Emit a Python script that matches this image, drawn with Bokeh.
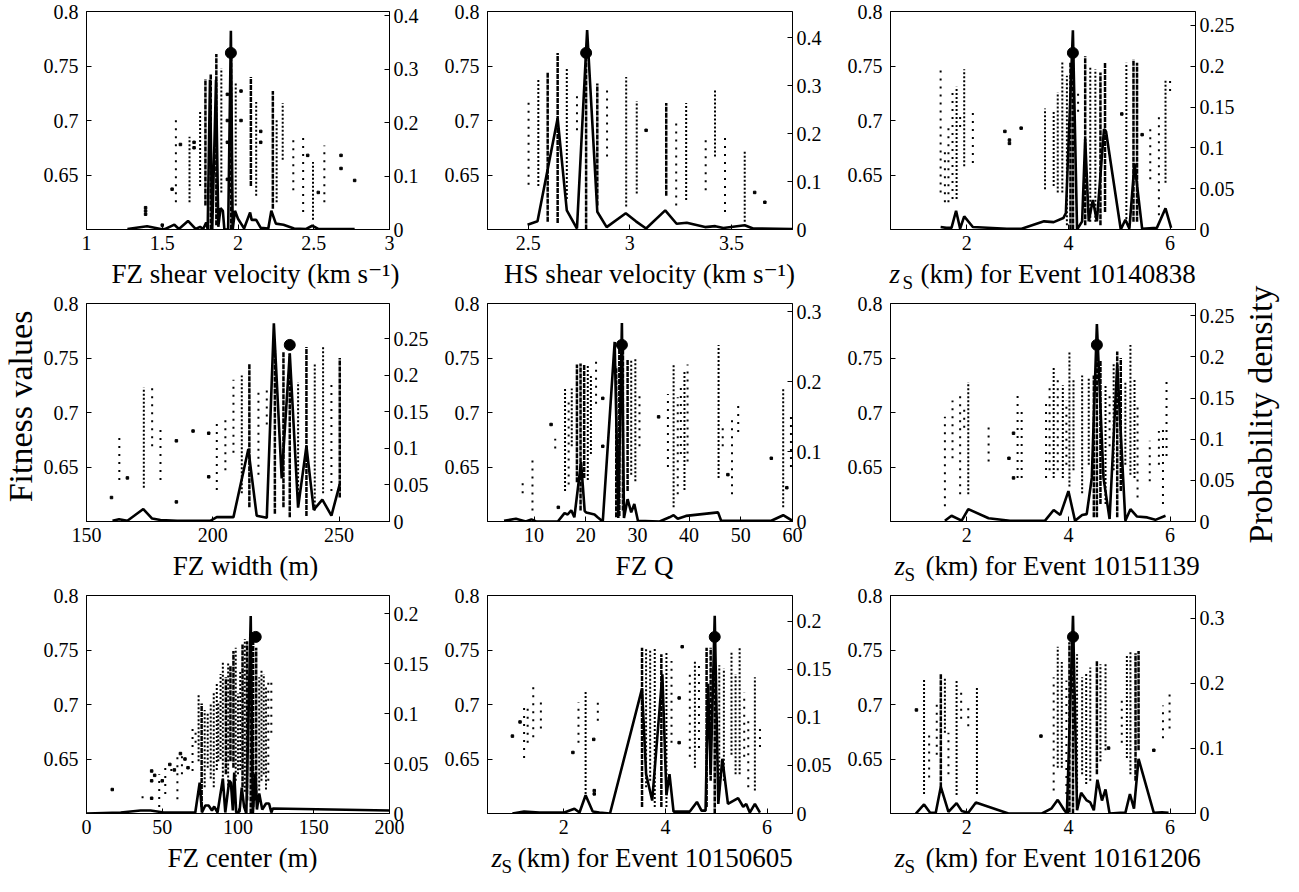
import math
from bokeh.plotting import figure
from bokeh.models import Range1d, LinearAxis, FixedTicker, CustomJSTickFormatter, Label
from bokeh.layouts import row, column
from bokeh.embed import file_html
from bokeh.resources import INLINE

FONT = "Liberation Serif, DejaVu Serif, serif"

# ---------------- data ----------------
fit_ticks = [0.65, 0.7, 0.75, 0.8]
fit_range = (0.6, 0.8)

x_ranges = [(1, 3), (2.3, 3.8), (0.5, 6.5), (150, 270), (1, 60), (0.5, 6.5), (0, 200), (0.5, 6.5), (0.5, 6.5)]
x_ticks = [[1, 1.5, 2, 2.5, 3], [2.5, 3, 3.5], [2, 4, 6], [150, 200, 250], [10, 20, 30, 40, 50, 60],
           [2, 4, 6], [0, 50, 100, 150, 200], [2, 4, 6], [2, 4, 6]]
dens_max = [0.408, 0.455, 0.267, 0.298, 0.312, 0.265, 0.2185, 0.227, 0.335]
dens_ticks = [[0, 0.1, 0.2, 0.3, 0.4], [0, 0.1, 0.2, 0.3, 0.4], [0, 0.05, 0.1, 0.15, 0.2, 0.25],
              [0, 0.05, 0.1, 0.15, 0.2, 0.25], [0, 0.1, 0.2, 0.3], [0, 0.05, 0.1, 0.15, 0.2, 0.25],
              [0, 0.05, 0.1, 0.15, 0.2], [0, 0.05, 0.1, 0.15, 0.2], [0, 0.1, 0.2, 0.3]]
titles = ["FZ shear velocity (km s\u207b\u00b9)", "HS shear velocity (km s\u207b\u00b9)", None,
          "FZ width (m)", "FZ Q", None, "FZ center (m)", None, None]
events = [None, None, "10140838", None, None, "10151139", None, "10150605", "10161206"]
y_left_title = "Fitness values"
y_right_title = "Probability density"
best_x = [1.953, 2.785, 4.088, 230.5, 27.0, 4.56, 111.7, 4.97, 4.09]
best_y = [0.762, 0.762, 0.762, 0.762, 0.762, 0.762, 0.762, 0.762, 0.762]

# panel 1
p1_dens_x = [1.27, 1.40, 1.49, 1.52, 1.58, 1.61, 1.67, 1.72, 1.75, 1.77, 1.79, 1.80, 1.815, 1.83, 1.855, 1.87, 1.885,
             1.90, 1.91, 1.935, 1.953, 1.965, 1.98, 2.00, 2.04, 2.08, 2.09, 2.12, 2.15, 2.20, 2.22, 2.25, 2.30, 2.37,
             2.45, 2.49, 2.53, 2.77]
p1_dens_y = [0.001, 0.006, 0.001, 0.001, 0.009, 0.001, 0.016, 0.001, 0.005, 0.001, 0.013, 0.0, 0.28, 0.0, 0.28, 0.005,
             0.04, 0.035, 0.0, 0.0, 0.372, 0.0, 0.035, 0.02, 0.002, 0.032, 0.018, 0.018, 0.003, 0.002, 0.035, 0.011,
             0.009, 0.002, 0.001, 0.007, 0.001, 0.001]
p1_dense = [(1.785, 0.622, 0.738), (1.82, 0.600, 0.743), (1.857, 0.604, 0.761), (1.955, 0.600, 0.760),
            (2.085, 0.640, 0.740), (2.23, 0.619, 0.727)]
p1_mid = [(1.68, 0.625, 0.685), (1.75, 0.640, 0.708), (1.89, 0.634, 0.748), (1.985, 0.622, 0.734),
          (2.12, 0.631, 0.717), (2.255, 0.625, 0.701), (2.295, 0.664, 0.716), (2.495, 0.609, 0.662)]
p1_sparse = [(1.59, 0.625, 0.705), (2.365, 0.636, 0.683), (2.43, 0.616, 0.686), (2.57, 0.625, 0.677)]
p1_pts_x = [1.39, 1.39, 1.39, 1.50, 1.565, 1.62, 1.71, 1.71, 1.93, 1.93, 1.93, 1.93, 2.02, 2.02, 2.15, 2.15, 2.46,
            2.53, 2.68, 2.68, 2.77]
p1_pts_y = [0.620, 0.617, 0.614, 0.604, 0.637, 0.678, 0.680, 0.675, 0.724, 0.700, 0.680, 0.646, 0.727, 0.700, 0.690,
            0.680, 0.668, 0.634, 0.668, 0.656, 0.645]

# panel 2
p2_dens_x = [2.497, 2.546, 2.645, 2.69, 2.74, 2.79, 2.84, 2.886, 2.98, 3.03, 3.08, 3.174, 3.23, 3.28, 3.37, 3.42,
             3.46, 3.565, 3.606, 3.80]
p2_dens_y = [0.010, 0.017, 0.232, 0.040, 0.002, 0.416, 0.037, 0.005, 0.034, 0.017, 0.002, 0.040, 0.012, 0.014,
             0.005, 0.007, 0.003, 0.009, 0.002, 0.001]
p2_dense = [(2.596, 0.607, 0.744), (2.645, 0.606, 0.762), (2.785, 0.600, 0.762), (2.84, 0.622, 0.734),
            (3.179, 0.631, 0.716)]
p2_mid = [(2.55, 0.640, 0.739), (2.69, 0.628, 0.749), (2.982, 0.621, 0.740), (3.034, 0.633, 0.718),
          (3.277, 0.627, 0.716), (3.419, 0.667, 0.728), (3.565, 0.607, 0.672)]
p2_sparse = [(2.502, 0.641, 0.717), (2.74, 0.691, 0.723), (2.888, 0.667, 0.728), (3.228, 0.622, 0.701),
             (3.373, 0.636, 0.683), (3.468, 0.616, 0.686)]
p2_pts_x = [3.08, 3.614, 3.664]
p2_pts_y = [0.691, 0.634, 0.625]

# panel 3
p3_dens_x = [1.486, 1.60, 1.70, 1.79, 1.87, 1.95, 2.12, 2.79, 3.08, 3.52, 3.71, 3.90, 3.95, 4.088, 4.17, 4.27,
             4.33, 4.40, 4.48, 4.56, 4.70, 4.74, 5.03, 5.12, 5.20, 5.30, 5.45, 5.74, 5.91, 6.02]
p3_dens_y = [0.003, 0.002, 0.002, 0.023, 0.001, 0.016, 0.003, 0.001, 0.001, 0.010, 0.009, 0.014, 0.02, 0.244, 0.0,
             0.01, 0.111, 0.01, 0.036, 0.01, 0.123, 0.12, 0.0, 0.012, 0.001, 0.081, 0.001, 0.002, 0.026, 0.002]
p3_dense = [(4.04, 0.600, 0.753), (4.09, 0.600, 0.762), (4.33, 0.604, 0.759), (4.63, 0.604, 0.744),
            (4.72, 0.616, 0.753), (5.28, 0.607, 0.756), (5.35, 0.607, 0.753)]
p3_mid = [(1.80, 0.628, 0.731), (1.95, 0.658, 0.747), (3.54, 0.637, 0.711), (3.71, 0.640, 0.708),
          (3.79, 0.634, 0.726), (3.88, 0.634, 0.754), (3.97, 0.604, 0.741), (4.43, 0.607, 0.750),
          (4.53, 0.607, 0.747), (5.14, 0.606, 0.753), (5.91, 0.643, 0.738)]
p3_sparse = [(1.486, 0.634, 0.748), (1.57, 0.625, 0.671), (1.64, 0.625, 0.694), (1.72, 0.628, 0.726),
             (1.87, 0.694, 0.708), (2.12, 0.661, 0.711), (4.19, 0.708, 0.726), (5.61, 0.646, 0.697),
             (5.78, 0.613, 0.708), (6.0, 0.727, 0.740)]
p3_pts_x = [2.75, 2.84, 2.84, 3.07, 5.05, 5.45]
p3_pts_y = [0.690, 0.682, 0.679, 0.693, 0.706, 0.687]

# panel 4
p4_dens_x = [160.3, 162.9, 166.2, 172.5, 176, 179.3, 185.9, 199, 201.6, 208.2, 214.1, 217.4, 221.4, 224.2, 227.3,
             230.5, 233.8, 237.1, 240, 243.4, 247, 250.3]
p4_dens_y = [0.001, 0.003, 0.001, 0.017, 0.004, 0.002, 0.001, 0.001, 0.006, 0.006, 0.099, 0.008, 0.005, 0.271,
             0.059, 0.23, 0.019, 0.103, 0.016, 0.03, 0.008, 0.051]
p4_dense = [(214.5, 0.613, 0.745), (224.6, 0.607, 0.757), (228, 0.613, 0.756), (230.5, 0.604, 0.754),
            (237.1, 0.605, 0.760), (250.3, 0.622, 0.750)]
p4_mid = [(172.7, 0.631, 0.723), (211.5, 0.626, 0.734), (233.8, 0.625, 0.728), (240.4, 0.610, 0.745),
          (243.7, 0.626, 0.760)]
p4_sparse = [(163, 0.638, 0.680), (176, 0.669, 0.726), (179.3, 0.638, 0.689), (201.6, 0.629, 0.690),
             (205, 0.647, 0.696), (208.2, 0.663, 0.730), (218.1, 0.643, 0.723), (221.4, 0.689, 0.725),
             (247, 0.628, 0.726)]
p4_pts_x = [159.9, 166.2, 185.6, 185.6, 192.2, 198.4, 198.4]
p4_pts_y = [0.622, 0.640, 0.674, 0.618, 0.683, 0.681, 0.641]

# panel 5
p5_dens_x = [4.2, 6.5, 8.4, 9.5, 10.4, 14.6, 15.9, 16.5, 17.2, 17.8, 19.1, 19.8, 20.1, 21.7, 22.3, 23.3, 25.6, 26.3,
             27.0, 27.4, 28.1, 28.8, 29.4, 30.1, 34.3, 36.2, 37.0, 37.8, 39.4, 45.6, 46.2, 48.5, 55.9, 58.2, 60.0]
p5_dens_y = [0.001, 0.004, 0.0, 0.003, 0.0, 0.0, 0.012, 0.010, 0.016, 0.006, 0.085, 0.015, 0.013, 0.010, 0.006, 0.0,
             0.257, 0.005, 0.284, 0.005, 0.032, 0.013, 0.025, 0.001, 0.0, 0.006, 0.009, 0.004, 0.008, 0.013, 0.001,
             0.001, 0.001, 0.009, 0.001]
p5_dense = [(18.3, 0.636, 0.744), (19.0, 0.610, 0.745), (19.7, 0.640, 0.744), (25.9, 0.604, 0.742),
            (26.5, 0.605, 0.764), (27.2, 0.610, 0.764), (28.1, 0.628, 0.749)]
p5_mid = [(16.0, 0.628, 0.722), (17.3, 0.669, 0.722), (20.4, 0.638, 0.743), (21.0, 0.662, 0.734),
          (28.8, 0.643, 0.749), (29.6, 0.637, 0.749), (37.0, 0.613, 0.744), (39.1, 0.629, 0.738),
          (45.7, 0.640, 0.762), (58.2, 0.613, 0.723)]
p5_sparse = [(7.8, 0.626, 0.635), (9.7, 0.610, 0.659), (14.1, 0.667, 0.676), (16.7, 0.634, 0.711),
             (22.0, 0.708, 0.747), (30.4, 0.669, 0.720), (35.9, 0.650, 0.717), (37.8, 0.625, 0.714),
             (38.4, 0.662, 0.728), (39.7, 0.655, 0.744), (46.5, 0.669, 0.691), (48.3, 0.625, 0.696),
             (49.5, 0.682, 0.708), (59.7, 0.650, 0.698)]
p5_pts_x = [13.3, 14.7, 23.3, 23.3, 34.1, 47.5, 55.9, 58.9]
p5_pts_y = [0.689, 0.613, 0.713, 0.669, 0.696, 0.643, 0.658, 0.631]

# panel 6
p6_dens_x = [1.57, 1.70, 1.90, 2.03, 2.43, 2.85, 3.54, 3.71, 3.84, 4.0, 4.13, 4.27, 4.36, 4.46, 4.56, 4.69, 4.81,
             4.96, 5.12, 5.22, 5.35, 5.55, 5.71, 5.91]
p6_dens_y = [0.001, 0.007, 0.001, 0.015, 0.004, 0.001, 0.001, 0.014, 0.008, 0.037, 0.001, 0.008, 0.009, 0.053,
             0.240, 0.053, 0.003, 0.191, 0.001, 0.015, 0.006, 0.005, 0.002, 0.007]
p6_dense = [(4.5, 0.604, 0.734), (4.56, 0.604, 0.762), (4.63, 0.616, 0.748), (4.96, 0.604, 0.756),
            (5.03, 0.628, 0.750)]
p6_mid = [(2.03, 0.625, 0.728), (3.71, 0.640, 0.741), (3.89, 0.640, 0.725), (4.02, 0.632, 0.756),
          (4.10, 0.647, 0.730), (4.27, 0.626, 0.734), (4.40, 0.652, 0.731), (4.73, 0.616, 0.725),
          (4.89, 0.647, 0.745), (5.12, 0.652, 0.728), (5.22, 0.643, 0.762), (5.30, 0.640, 0.730)]
p6_sparse = [(1.57, 0.614, 0.696), (1.72, 0.658, 0.711), (1.87, 0.625, 0.717), (1.95, 0.686, 0.706),
             (2.43, 0.655, 0.687), (3.0, 0.640, 0.716), (3.08, 0.640, 0.702), (3.56, 0.640, 0.708),
             (3.63, 0.647, 0.723), (3.79, 0.647, 0.732), (3.96, 0.652, 0.711), (4.81, 0.669, 0.720),
             (5.36, 0.622, 0.707), (5.6, 0.637, 0.674), (5.78, 0.652, 0.683), (5.86, 0.616, 0.684),
             (5.93, 0.660, 0.728)]
p6_pts_x = [2.83, 2.92, 2.92]
p6_pts_y = [0.658, 0.681, 0.640]

# panel 7
p7_dens_x = [0, 22.6, 35.7, 42.3, 51, 59.8, 68.6, 71.8, 74.7, 76.2, 78.4, 80.6, 82.8, 84.3, 86.5, 90, 91.6, 94.2,
             95.3, 96.6, 97.5, 98.8, 101, 102.5, 104, 105.5, 108.4, 109.8, 111.5, 112.5, 114, 116, 118.5, 120.5,
             122, 123, 200]
p7_dens_y = [0.0, 0.001, 0.003, 0.003, 0.001, 0.001, 0.001, 0.001, 0.031, 0.001, 0.008, 0.008, 0.003, 0.007, 0.001,
             0.035, 0.001, 0.033, 0.031, 0.003, 0.041, 0.001, 0.002, 0.026, 0.007, 0.0, 0.198, 0.0, 0.04, 0.004,
             0.02, 0.004, 0.01, 0.01, 0.001, 0.005, 0.003]
p7_dense = [(76, 0.606, 0.701), (92, 0.636, 0.725), (95, 0.648, 0.735), (97, 0.642, 0.749), (103, 0.624, 0.755),
            (106, 0.612, 0.758), (108.4, 0.600, 0.765), (110, 0.606, 0.762), (112, 0.612, 0.752)]
p7_mid = [(74, 0.648, 0.710), (78, 0.624, 0.695), (80, 0.642, 0.692), (82, 0.632, 0.700), (84, 0.624, 0.712),
          (86, 0.640, 0.720), (87, 0.648, 0.701), (88.5, 0.650, 0.728), (90, 0.630, 0.740), (93.5, 0.622, 0.738),
          (98.5, 0.630, 0.752), (100, 0.636, 0.710), (101.5, 0.640, 0.730), (104.5, 0.620, 0.760),
          (114, 0.621, 0.725), (115.5, 0.630, 0.732), (117, 0.636, 0.728), (118.5, 0.622, 0.716)]
p7_sparse = [(37, 0.614, 0.619), (48, 0.606, 0.636), (52, 0.618, 0.642), (56, 0.639, 0.643), (60, 0.613, 0.654),
             (63, 0.636, 0.658), (70, 0.639, 0.679), (72, 0.665, 0.679), (120, 0.630, 0.725), (122, 0.674, 0.722)]
p7_pts_x = [17, 43, 43, 43, 45, 50, 55, 58, 62, 65, 67]
p7_pts_y = [0.622, 0.639, 0.630, 0.614, 0.635, 0.630, 0.645, 0.640, 0.655, 0.650, 0.642]

# panel 8
p8_dens_x = [0.99, 1.22, 1.52, 2.01, 2.21, 2.31, 2.43, 2.57, 2.70, 2.91, 3.54, 3.62, 3.74, 3.94, 4.02, 4.08, 4.16,
             4.48, 4.62, 4.71, 4.79, 4.84, 4.89, 4.97, 5.04, 5.12, 5.23, 5.43, 5.53, 5.59, 5.66, 5.76, 5.86]
p8_dens_y = [0.0, 0.002, 0.001, 0.001, 0.005, 0.001, 0.019, 0.002, 0.001, 0.0, 0.130, 0.041, 0.0135, 0.145, 0.019,
             0.041, 0.002, 0.002, 0.012, 0.003, 0.003, 0.135, 0.04, 0.206, 0.01, 0.057, 0.01, 0.016, 0.007, 0.01,
             0.001, 0.01, 0.001]
p8_dense = [(3.54, 0.606, 0.752), (3.92, 0.606, 0.746), (4.81, 0.606, 0.752), (4.89, 0.630, 0.752),
            (4.97, 0.600, 0.762)]
p8_mid = [(2.43, 0.618, 0.713), (3.62, 0.624, 0.751), (3.70, 0.630, 0.751), (3.79, 0.606, 0.751),
          (4.02, 0.606, 0.749), (4.58, 0.642, 0.741), (5.06, 0.621, 0.736), (5.15, 0.630, 0.733),
          (5.30, 0.654, 0.749), (5.38, 0.636, 0.728), (5.46, 0.636, 0.752), (5.76, 0.621, 0.725)]
p8_sparse = [(1.22, 0.651, 0.699), (1.29, 0.665, 0.701), (1.40, 0.670, 0.718), (1.55, 0.678, 0.704),
             (2.29, 0.665, 0.702), (2.67, 0.685, 0.703), (4.12, 0.665, 0.740), (4.48, 0.652, 0.728),
             (4.66, 0.660, 0.738), (5.55, 0.652, 0.711), (5.63, 0.624, 0.690), (5.86, 0.661, 0.681)]
p8_pts_x = [0.99, 1.14, 2.18, 2.59, 2.60, 2.60, 4.27, 4.27, 4.33]
p8_pts_y = [0.671, 0.684, 0.656, 0.668, 0.618, 0.621, 0.706, 0.665, 0.753]

# panel 9
p9_dens_x = [1.0, 1.16, 1.28, 1.39, 1.49, 1.64, 1.80, 1.90, 2.03, 2.18, 2.82, 3.48, 3.67, 3.79, 3.92, 3.97, 4.09,
             4.17, 4.25, 4.36, 4.43, 4.50, 4.57, 4.66, 4.73, 4.81, 5.02, 5.12, 5.21, 5.29, 5.38, 5.68, 5.84, 5.97]
p9_dens_y = [0.0, 0.014, 0.001, 0.001, 0.041, 0.0025, 0.016, 0.004, 0.001, 0.017, 0.0, 0.0, 0.008, 0.021, 0.005,
             0.0, 0.304, 0.005, 0.032, 0.02, 0.017, 0.005, 0.052, 0.02, 0.037, 0.0, 0.001, 0.001, 0.03, 0.0075,
             0.084, 0.001, 0.002, 0.001]
p9_dense = [(1.49, 0.624, 0.728), (4.02, 0.601, 0.757), (4.09, 0.600, 0.761), (4.56, 0.636, 0.740),
            (5.32, 0.630, 0.747), (5.38, 0.658, 0.749)]
p9_mid = [(1.16, 0.618, 0.724), (1.57, 0.674, 0.725), (1.80, 0.617, 0.723), (2.20, 0.618, 0.716),
          (3.79, 0.642, 0.753), (3.87, 0.642, 0.739), (4.17, 0.609, 0.746), (4.27, 0.636, 0.725),
          (4.35, 0.627, 0.729), (4.43, 0.630, 0.734), (4.63, 0.648, 0.737), (4.73, 0.658, 0.737),
          (5.15, 0.651, 0.746), (5.22, 0.636, 0.748)]
p9_sparse = [(1.26, 0.633, 0.677), (1.41, 0.654, 0.700), (1.64, 0.636, 0.674), (1.89, 0.687, 0.711),
             (2.03, 0.680, 0.700), (3.71, 0.621, 0.725), (3.96, 0.618, 0.722), (5.05, 0.665, 0.706),
             (5.86, 0.669, 0.699), (5.99, 0.678, 0.711)]
p9_pts_x = [1.01, 3.46, 4.79, 5.68]
p9_pts_y = [0.695, 0.671, 0.660, 0.658]

dens_x = [p1_dens_x, p2_dens_x, p3_dens_x, p4_dens_x, p5_dens_x, p6_dens_x, p7_dens_x, p8_dens_x, p9_dens_x]
dens_y = [p1_dens_y, p2_dens_y, p3_dens_y, p4_dens_y, p5_dens_y, p6_dens_y, p7_dens_y, p8_dens_y, p9_dens_y]
dense_cols = [p1_dense, p2_dense, p3_dense, p4_dense, p5_dense, p6_dense, p7_dense, p8_dense, p9_dense]
mid_cols = [p1_mid, p2_mid, p3_mid, p4_mid, p5_mid, p6_mid, p7_mid, p8_mid, p9_mid]
sparse_cols = [p1_sparse, p2_sparse, p3_sparse, p4_sparse, p5_sparse, p6_sparse, p7_sparse, p8_sparse, p9_sparse]
pts_x = [p1_pts_x, p2_pts_x, p3_pts_x, p4_pts_x, p5_pts_x, p6_pts_x, p7_pts_x, p8_pts_x, p9_pts_x]
pts_y = [p1_pts_y, p2_pts_y, p3_pts_y, p4_pts_y, p5_pts_y, p6_pts_y, p7_pts_y, p8_pts_y, p9_pts_y]

# ---------------- layout ----------------
FRAME_W = 305
FRAME_H = 218
COL_LEFT = [44, 52, 52]
COL_RIGHT = [46, 46, 45]
TOP = 11
BOTTOM = 28
STRIP_H = 35
SIDE_W = 40
COL_W = [COL_LEFT[c] + FRAME_W + COL_RIGHT[c] for c in range(3)]
GRID_W = sum(COL_W)
FRAME_OFF = [COL_LEFT[0], COL_W[0] + COL_LEFT[1], COL_W[0] + COL_W[1] + COL_LEFT[2]]
TOTAL_H = 3 * (TOP + FRAME_H + BOTTOM + STRIP_H)

FZ_TITLE_X = [171, 162, None, 161, 157, None, 158, None, None]
ZS_POS = [None, None, (-1, 12, 30), None, None, (4, 14, 35), None, (4, 14, 30), (4, 14, 35)]
TITLE_Y = 4   # bottom of the title text box, above the strip's lower edge
SUB_Y = 0

fmt_code = "return String(Math.round(tick*1000)/1000);"


def style_axis(ax, standoff):
    ax.major_tick_in = 5
    ax.major_tick_out = 0
    ax.minor_tick_in = 0
    ax.minor_tick_out = 0
    ax.major_label_text_font = FONT
    ax.major_label_text_font_size = "20px"
    ax.major_label_text_color = "black"
    ax.major_label_standoff = standoff
    ax.axis_line_color = "black"
    ax.major_tick_line_color = "black"
    ax.axis_line_width = 1
    ax.formatter = CustomJSTickFormatter(code=fmt_code)


def draw_cols(p, cols, width, dash):
    xs = [c[0] for c in cols]
    lo = [c[1] for c in cols]
    hi = [c[2] for c in cols]
    p.segment(x0=xs, y0=lo, x1=xs, y1=hi, line_color="black", line_width=width, line_dash=dash)


def text_canvas(w, h):
    s = figure(width=w, height=h, x_range=Range1d(0, w), y_range=Range1d(0, h),
               x_axis_type=None, y_axis_type=None, output_backend="svg",
               toolbar_location=None, tools="", min_border=0)
    s.outline_line_color = None
    s.background_fill_color = "white"
    s.border_fill_color = "white"
    return s


def add_text(s, x, y, text, size, style="normal", align="left", angle=0.0):
    s.add_layout(Label(x=x, y=y, text=text, text_font=FONT, text_font_size=size,
                       text_font_style=style, text_align=align, text_baseline="bottom",
                       text_color="black", angle=angle))


figs = []
for i in range(9):
    r, c = divmod(i, 3)
    left, right = COL_LEFT[c], COL_RIGHT[c]
    p = figure(width=COL_W[c], height=TOP + FRAME_H + BOTTOM,
               x_range=Range1d(*x_ranges[i]), y_range=Range1d(*fit_range),
               output_backend="svg", toolbar_location=None, tools="",
               min_border_left=left, min_border_right=right,
               min_border_top=TOP, min_border_bottom=BOTTOM)
    p.extra_y_ranges = {"dens": Range1d(0, dens_max[i])}
    p.xgrid.visible = False
    p.ygrid.visible = False
    p.outline_line_color = "black"
    p.outline_line_width = 1
    p.background_fill_color = "white"
    p.border_fill_color = "white"

    p.yaxis[0].ticker = FixedTicker(ticks=fit_ticks)
    style_axis(p.yaxis[0], 8)
    p.xaxis[0].ticker = FixedTicker(ticks=x_ticks[i])
    style_axis(p.xaxis[0], 6)
    rax = LinearAxis(y_range_name="dens", ticker=FixedTicker(ticks=dens_ticks[i]))
    style_axis(rax, 4)
    p.add_layout(rax, "right")

    # scatter of fitness values
    draw_cols(p, sparse_cols[i], 2, "2 6")
    draw_cols(p, mid_cols[i], 2, "2 2")
    draw_cols(p, dense_cols[i], 2.5, "5 1")
    p.scatter(pts_x[i], pts_y[i], marker="square", size=2.5, color="black")

    # probability density
    p.line(dens_x[i], dens_y[i], y_range_name="dens", line_color="black", line_width=2.6)
    # best model
    p.scatter([best_x[i]], [best_y[i]], marker="circle", size=11, color="black")
    figs.append(p)

# x-axis titles: one text strip under each row of panels
strips = []
for r in range(3):
    s = text_canvas(GRID_W, STRIP_H)
    for c in range(3):
        i = 3 * r + c
        fx = FRAME_OFF[c]
        if titles[i] is not None:
            add_text(s, fx + FZ_TITLE_X[i], TITLE_Y, titles[i], "27px", align="center")
        else:
            zx, sx, mx = ZS_POS[i]
            add_text(s, fx + zx, TITLE_Y, "z", "27px", style="italic")
            add_text(s, fx + sx, SUB_Y, "S", "19px")
            add_text(s, fx + mx, TITLE_Y, "(km) for Event " + events[i], "27px")
    strips.append(s)

left_side = text_canvas(SIDE_W, TOTAL_H)
add_text(left_side, 38, TOTAL_H - 406, y_left_title, "34px", align="center", angle=math.pi / 2)
right_side = text_canvas(SIDE_W, TOTAL_H)
add_text(right_side, 38.5, TOTAL_H - 414, y_right_title, "34px", align="center", angle=math.pi / 2)

grid = column(row(*figs[0:3]), strips[0], row(*figs[3:6]), strips[1], row(*figs[6:9]), strips[2])
layout = row(left_side, grid, right_side)
open("out.html", "w").write(file_html(layout, INLINE))
